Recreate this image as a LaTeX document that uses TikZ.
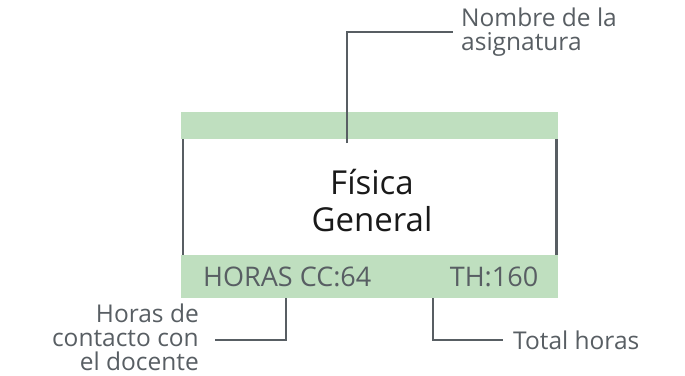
\documentclass[tikz,border=0pt]{standalone}
\usepackage{fontspec}
\setmainfont{Open Sans}
\usetikzlibrary{positioning}
\definecolor{bandgreen}{RGB}{191,223,191}
\definecolor{leadgrey}{RGB}{88,94,99}
\definecolor{titleblack}{RGB}{25,25,25}
\tikzstyle{band} = [rectangle, fill=bandgreen, minimum width=377pt, inner sep=0pt]
\tikzstyle{lead} = [draw=leadgrey, line width=2.4pt]
\tikzstyle{caption} = [text=leadgrey, inner sep=0pt, font=\fontsize{24.5}{24}\selectfont]
\tikzstyle{bandtext} = [text=leadgrey, inner sep=0pt, font=\fontsize{27}{27}\selectfont]
\tikzstyle{title} = [text=titleblack, align=center, font=\fontsize{33}{37}\selectfont]

\begin{document}
\begin{tikzpicture}[x=1pt, y=-1pt]
  \useasboundingbox (0,0) rectangle (685,375);

  \node[band, minimum height=27pt, anchor=north west] (top) at (181,112) {};
  \node[band, minimum height=43pt, anchor=north west] (bottom) at (181,255) {};
  \node[title] (name) at (372,201) {Física\\General};

  \node[bandtext, anchor=west] (cc) at ([xshift=22pt]bottom.west) {HORAS CC:64};
  \node[bandtext, anchor=east] (th) at ([xshift=-20pt]bottom.east) {TH:160};

  % sides of the card
  \draw[lead] ([xshift=2pt]top.south west) -- ([xshift=2pt]bottom.north west);
  \draw[lead] ([xshift=-2pt]top.south east) -- ([xshift=-2pt]bottom.north east);

  % leaders and their labels
  \node[caption, align=left, anchor=west] (nombre) at (461,32) {Nombre de la\\asignatura};
  \coordinate (nombrefoot) at (347,143);
  \draw[lead] (nombrefoot) |- ([xshift=-8pt]nombre.west);

  \node[caption, align=right, anchor=east] (contacto) at (199,337) {Horas de\\contacto con\\el docente};
  \draw[lead] (bottom.south -| 286,0) |- (215,340);

  \node[caption, anchor=west] (total) at (513,340) {Total horas};
  \draw[lead] (bottom.south -| 433,0) |- ([xshift=-10pt]total.west);
\end{tikzpicture}
\end{document}
